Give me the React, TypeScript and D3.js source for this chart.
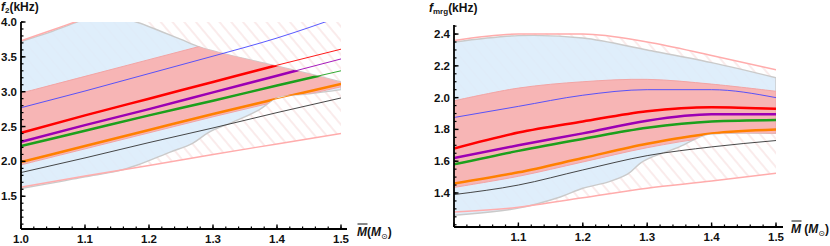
import React from "react";
import * as d3 from "d3";

type Pt = [number, number];

const massGrid = [1.0, 1.1, 1.2, 1.3, 1.4, 1.5];

// ---- left panel: f2 (kHz)
const f2Blue = [2.77, 3.01, 3.26, 3.51, 3.77, 4.08];
const f2Red = [2.41, 2.66, 2.9, 3.14, 3.38, 3.61];
const f2Purple = [2.28, 2.52, 2.75, 2.99, 3.23, 3.47];
const f2Green = [2.22, 2.44, 2.66, 2.87, 3.09, 3.3];
const f2Orange = [1.99, 2.22, 2.45, 2.68, 2.9, 3.11];
const f2Black = [1.84, 2.05, 2.27, 2.48, 2.7, 2.91];
const f2BandTop = [2.98, 3.22, 3.46, 3.7, 3.94, 4.18];
const f2BandBottom = [1.95, 2.18, 2.41, 2.64, 2.86, 3.07];
const f2BoundLower = [1.63, 1.79, 1.94, 2.1, 2.25, 2.4];
const f2BoundUpperM = [1.0, 1.05, 1.1, 1.5];
const f2BoundUpper = [3.73, 3.89, 4.05, 5.2];
const f2RegionTopM = [1.0, 1.05, 1.085, 1.1, 1.14, 1.18, 1.22, 1.25, 1.28, 1.315, 1.37, 1.44, 1.5];
const f2RegionTop = [3.72, 3.87, 3.99, 4.04, 4.06, 4.0, 3.86, 3.75, 3.64, 3.55, 3.43, 3.28, 3.14];
const f2RegionBottomM = [1.0, 1.061, 1.1, 1.15, 1.181, 1.232, 1.268, 1.294, 1.33, 1.372, 1.393, 1.403, 1.45, 1.5];
const f2RegionBottom = [1.61, 1.71, 1.78, 1.86, 1.945, 2.13, 2.26, 2.42, 2.56, 2.74, 2.88, 2.93, 2.97, 3.03];
const f2Ticks = [1.5, 2.0, 2.5, 3.0, 3.5, 4.0];
const massTicksLeft = [1.0, 1.1, 1.2, 1.3, 1.4, 1.5];

// ---- right panel: fmrg (kHz)
const fmBlue = [1.875, 1.945, 2.015, 2.05, 2.05, 2.0];
const fmRed = [1.68, 1.78, 1.85, 1.915, 1.94, 1.93];
const fmPurple = [1.62, 1.7, 1.775, 1.855, 1.895, 1.895];
const fmGreen = [1.58, 1.665, 1.74, 1.81, 1.85, 1.86];
const fmOrange = [1.46, 1.53, 1.62, 1.71, 1.775, 1.8];
const fmBlack = [1.39, 1.45, 1.545, 1.635, 1.69, 1.73];
const fmBandTop = [1.98, 2.06, 2.1, 2.115, 2.085, 2.04];
const fmBandBottom = [1.435, 1.505, 1.595, 1.685, 1.75, 1.775];
const fmBoundUpper = [2.36, 2.4, 2.4, 2.35, 2.265, 2.175];
const fmBoundLower = [1.28, 1.31, 1.37, 1.43, 1.475, 1.525];
const fmRegionTop = [2.35, 2.39, 2.375, 2.3, 2.22, 2.125];
const fmRegionBottomM = [1.0, 1.1, 1.165, 1.2, 1.24, 1.27, 1.29, 1.31, 1.35, 1.39, 1.42, 1.5];
const fmRegionBottom = [1.26, 1.305, 1.375, 1.43, 1.47, 1.52, 1.59, 1.63, 1.69, 1.765, 1.775, 1.775];
const fmTicks = [1.4, 1.6, 1.8, 2.0, 2.2, 2.4];
const massTicksRight = [1.1, 1.2, 1.3, 1.4, 1.5];

const zip = (xs: number[], ys: number[]): Pt[] => xs.map((x, i) => [x, ys[i]]);

const FONT = "'Liberation Sans', Arial, sans-serif";
const colors = {
  red: "#ff0000",
  purple: "#9c00b4",
  green: "#1ca01c",
  orange: "#ff8000",
  blue: "#4646ff",
  black: "#333333",
};

function Panel(props: any) {
  const p = props;
  const x = d3.scaleLinear().domain([1.0, 1.5]).range([p.left, p.right]);
  const y = d3.scaleLinear().domain(p.yDomain).range([p.bottom, p.top]);
  const line = d3.line<Pt>().x((d) => x(d[0])).y((d) => y(d[1])).curve(d3.curveMonotoneX);
  const smooth = d3.line<Pt>().x((d) => x(d[0])).y((d) => y(d[1])).curve(d3.curveCatmullRom);
  const poly = (top: Pt[], bottom: Pt[]) =>
    smooth(top)! + "L" + smooth(bottom.slice().reverse())!.slice(1) + "Z";

  const region = poly(p.regionTop, p.regionBottom);
  const band = poly(p.bandTop, p.bandBottom);
  const hatch = poly(p.boundUpper, p.boundLower);
  const id = p.id;

  const yMinor = d3.range(p.yMinorStart, p.yDomain[1] + 1e-6, p.yMinorStep);
  const xMinor = d3.range(1.0, 1.5 + 1e-6, 0.02);

  return (
    <g>
      <defs>
        <clipPath id={`${id}-plot`}>
          <rect x={p.left} y={p.top} width={p.right - p.left} height={p.bottom - p.top} />
        </clipPath>
        <clipPath id={`${id}-hatch`}>
          <path d={hatch} />
        </clipPath>
        <clipPath id={`${id}-region`}>
          <path d={region} />
        </clipPath>
        <clipPath id={`${id}-band`}>
          <path d={band} />
        </clipPath>
        <pattern
          id={`${id}-pat`}
          patternUnits="userSpaceOnUse"
          width={9}
          height={9}
          patternTransform="rotate(-40)"
        >
          <line x1={1} y1={0} x2={1} y2={9} stroke="#f5d8d8" strokeWidth={1} />
        </pattern>
      </defs>

      <g clipPath={`url(#${id}-plot)`}>
        <g clipPath={`url(#${id}-hatch)`}>
          <rect x={p.left} y={p.top} width={p.right - p.left} height={p.bottom - p.top} fill={`url(#${id}-pat)`} />
        </g>
        <path d={region} fill="#dcecfb" fillOpacity={0.9} stroke="#cacaca" strokeWidth={1.4} />
        <g clipPath={`url(#${id}-region)`}>
          <path d={band} fill="#f7b5b5" stroke="#f2a4a4" strokeWidth={1} />
        </g>
        <path d={line(p.boundUpper)!} fill="none" stroke="#ffacac" strokeWidth={1.5} />
        <path d={line(p.boundLower)!} fill="none" stroke="#ffacac" strokeWidth={1.5} />

        {p.lines.map((s: any) => (
          <path key={s.name} d={line(s.pts)!} fill="none" stroke={s.color} strokeWidth={0.9} />
        ))}
        <g clipPath={`url(#${id}-region)`}>
          <g clipPath={`url(#${id}-band)`}>
            {p.lines
              .filter((s: any) => s.thick)
              .map((s: any) => (
                <path key={s.name} d={line(s.pts)!} fill="none" stroke={s.color} strokeWidth={2.5} />
              ))}
          </g>
        </g>
      </g>

      {/* axes */}
      <g stroke="#000">
        <line x1={p.left} x2={p.axisEnd} y1={p.bottom} y2={p.bottom} strokeWidth={1.8} />
        <line x1={p.left} x2={p.left} y1={p.bottom} y2={p.top} strokeWidth={1.8} />
        {yMinor.map((v: number) => (
          <line key={"ym" + v} x1={p.left} x2={p.left + 2.5} y1={y(v)} y2={y(v)} strokeWidth={1.2} />
        ))}
        {p.yTicks.map((v: number) => (
          <line key={"yM" + v} x1={p.left} x2={p.left + 4.5} y1={y(v)} y2={y(v)} strokeWidth={1.4} />
        ))}
        {xMinor.map((v: number) => (
          <line key={"xm" + v} x1={x(v)} x2={x(v)} y1={p.bottom} y2={p.bottom - 2.5} strokeWidth={1.2} />
        ))}
        {massGrid.map((v: number) => (
          <line key={"xM" + v} x1={x(v)} x2={x(v)} y1={p.bottom} y2={p.bottom - 4.5} strokeWidth={1.4} />
        ))}
      </g>
      <g fontFamily={FONT} fontWeight="bold" fontSize={11.5} fill="#111">
        {p.yTicks.map((v: number) => (
          <text key={"yl" + v} x={p.left - 4} y={y(v)} dy="0.35em" textAnchor="end">
            {v.toFixed(1)}
          </text>
        ))}
        {p.xTickLabels.map((v: number) => (
          <text key={"xl" + v} x={x(v)} y={p.bottom + 14} textAnchor="middle">
            {v.toFixed(1)}
          </text>
        ))}
      </g>
    </g>
  );
}

function MassLabel({ x, y, spaced }: { x: number; y: number; spaced?: boolean }) {
  return (
    <g fontFamily={FONT} fontWeight="bold" fontSize={12} fill="#111">
      <line x1={x + 0.5} x2={x + 10.5} y1={y - 12} y2={y - 12} stroke="#111" strokeWidth={1} />
      <text x={x} y={y}>
        <tspan fontStyle="italic">M</tspan>
        <tspan>{spaced ? " (" : "("}</tspan>
        <tspan fontStyle="italic">M</tspan>
        <tspan fontSize={8} dy={3} fontFamily="'DejaVu Sans', sans-serif" fontWeight="normal">
          ⊙
        </tspan>
        <tspan dy={-3}>)</tspan>
      </text>
    </g>
  );
}

export default function App() {
  const leftLines = [
    { name: "blue", color: colors.blue, pts: zip(massGrid, f2Blue), thick: false },
    { name: "black", color: colors.black, pts: zip(massGrid, f2Black), thick: false },
    { name: "orange", color: colors.orange, pts: zip(massGrid, f2Orange), thick: true },
    { name: "green", color: colors.green, pts: zip(massGrid, f2Green), thick: true },
    { name: "purple", color: colors.purple, pts: zip(massGrid, f2Purple), thick: true },
    { name: "red", color: colors.red, pts: zip(massGrid, f2Red), thick: true },
  ];
  const rightLines = [
    { name: "blue", color: colors.blue, pts: zip(massGrid, fmBlue), thick: false },
    { name: "black", color: colors.black, pts: zip(massGrid, fmBlack), thick: false },
    { name: "orange", color: colors.orange, pts: zip(massGrid, fmOrange), thick: true },
    { name: "green", color: colors.green, pts: zip(massGrid, fmGreen), thick: true },
    { name: "purple", color: colors.purple, pts: zip(massGrid, fmPurple), thick: true },
    { name: "red", color: colors.red, pts: zip(massGrid, fmRed), thick: true },
  ];

  return (
    <svg
      width={830}
      height={246}
      style={{ position: "absolute", left: 0, top: 0, background: "#fff" }}
    >
      <Panel
        id="f2"
        left={21}
        right={341}
        top={22}
        bottom={229}
        axisEnd={347}
        yDomain={[1.03, 4.0]}
        yTicks={f2Ticks}
        yMinorStart={1.1}
        yMinorStep={0.1}
        xTickLabels={massTicksLeft}
        regionTop={zip(f2RegionTopM, f2RegionTop)}
        regionBottom={zip(f2RegionBottomM, f2RegionBottom)}
        bandTop={zip(massGrid, f2BandTop)}
        bandBottom={zip(massGrid, f2BandBottom)}
        boundUpper={zip(f2BoundUpperM, f2BoundUpper)}
        boundLower={zip(massGrid, f2BoundLower)}
        lines={leftLines}
      />
      <Panel
        id="fm"
        left={454}
        right={776}
        top={25}
        bottom={227}
        axisEnd={783}
        yDomain={[1.186, 2.457]}
        yTicks={fmTicks}
        yMinorStart={1.2}
        yMinorStep={0.05}
        xTickLabels={massTicksRight}
        regionTop={zip(massGrid, fmRegionTop)}
        regionBottom={zip(fmRegionBottomM, fmRegionBottom)}
        bandTop={zip(massGrid, fmBandTop)}
        bandBottom={zip(massGrid, fmBandBottom)}
        boundUpper={zip(massGrid, fmBoundUpper)}
        boundLower={zip(massGrid, fmBoundLower)}
        lines={rightLines}
      />

      <g fontFamily={FONT} fontWeight="bold" fontSize={12} fill="#111">
        <text x={1} y={11}>
          <tspan fontStyle="italic">f</tspan>
          <tspan fontSize={8} dy={2}>2</tspan>
          <tspan dy={-2}>(kHz)</tspan>
        </text>
        <text x={429} y={12}>
          <tspan fontStyle="italic">f</tspan>
          <tspan fontSize={8} dy={2}>mrg</tspan>
          <tspan dy={-2}>(kHz)</tspan>
        </text>
      </g>
      <MassLabel x={357} y={236} />
      <MassLabel x={791} y={233} spaced />
    </svg>
  );
}
